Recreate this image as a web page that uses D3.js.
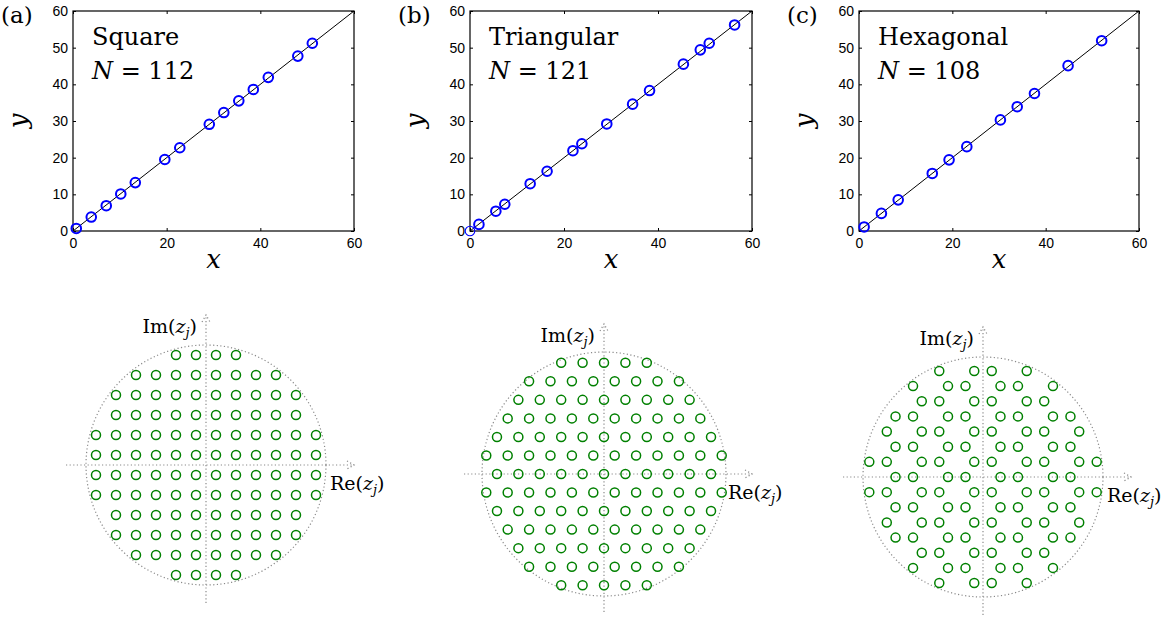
<!DOCTYPE html>
<html>
<head>
  <title>Lattice eigenvalues</title>
  <style>
    body { margin: 0; background: #fff; }
    .tick text { font-family: "Liberation Sans", Arial, sans-serif; font-size: 14px; }
    .serif { font-family: "DejaVu Serif", "Liberation Serif", serif; }
  </style>
</head>
<body>
  <svg id="chart"></svg>

  <script src="https://d3js.org/d3.v7.min.js"></script>
  <script>
    // values
    const panelLetters = ['(a)', '(b)', '(c)'];
    const latticeNames = ['Square', 'Triangular', 'Hexagonal'];
    const latticeN = [112, 121, 108];

    const squareX = [0.7, 3.9, 7.1, 10.2, 13.3, 19.6, 22.8, 29.1, 32.2, 35.4, 38.5, 41.7, 48.0, 51.1];
    const squareY = [0.7, 3.8, 6.9, 10.1, 13.2, 19.5, 22.7, 29.1, 32.3, 35.5, 38.6, 41.9, 47.7, 51.2];
    const triX = [0.0, 1.9, 5.5, 7.4, 12.8, 16.4, 21.9, 23.8, 29.1, 34.6, 38.2, 45.4, 49.0, 50.9, 56.3];
    const triY = [0.0, 1.8, 5.4, 7.3, 12.9, 16.3, 21.9, 23.8, 29.2, 34.6, 38.3, 45.5, 49.4, 51.2, 56.2];
    const hexX = [1.1, 4.8, 8.4, 15.7, 19.3, 23.1, 30.3, 33.9, 37.6, 44.8, 52.0];
    const hexY = [1.1, 4.8, 8.5, 15.7, 19.4, 23.0, 30.3, 33.9, 37.5, 45.1, 51.9];

    const yTicks = [0, 10, 20, 30, 40, 50, 60];
    const xTicks = [0, 20, 40, 60];

    // lattice sites, top row first
    const squareRowCounts = [4, 8, 10, 10, 12, 12, 12, 12, 10, 10, 8, 4];
    const triRowCounts = [5, 8, 9, 10, 11, 12, 11, 12, 11, 10, 9, 8, 5];
    const hexRowXs = [
      [-2.5, -0.5, 0.5, 2.5],
      [-4, -2, -1, 1, 2, 4],
      [-3.5, -2.5, -0.5, 0.5, 2.5, 3.5],
      [-5, -4, -2, -1, 1, 2, 4, 5],
      [-5.5, -3.5, -2.5, -0.5, 0.5, 2.5, 3.5, 5.5],
      [-5, -4, -2, -1, 1, 2, 4, 5],
      [-6.5, -5.5, -3.5, -2.5, -0.5, 0.5, 2.5, 3.5, 5.5, 6.5],
      [-5, -4, -2, -1, 1, 2, 4, 5],
      [-6.5, -5.5, -3.5, -2.5, -0.5, 0.5, 2.5, 3.5, 5.5, 6.5],
      [-5, -4, -2, -1, 1, 2, 4, 5],
      [-5.5, -3.5, -2.5, -0.5, 0.5, 2.5, 3.5, 5.5],
      [-5, -4, -2, -1, 1, 2, 4, 5],
      [-3.5, -2.5, -0.5, 0.5, 2.5, 3.5],
      [-4, -2, -1, 1, 2, 4],
      [-2.5, -0.5, 0.5, 2.5]
    ];

    const h3 = Math.sqrt(3) / 2;
    const squareSites = squareRowCounts.flatMap((n, i) =>
      d3.range(n).map(j => [j - (n - 1) / 2, 5.5 - i]));
    const triSites = triRowCounts.flatMap((n, i) =>
      d3.range(n).map(j => [j - (n - 1) / 2, (6 - i) * h3]));
    const hexSites = hexRowXs.flatMap((xs, i) => xs.map(x => [x, (7 - i) * h3]));

    const W = 1170, H = 621;
    const svg = d3.select('#chart').attr('width', W).attr('height', H);

    // top row: scatter panels
    const plotTop = 11, plotBottom = 231;
    const panels = [
      { left: 73, right: 354, xs: squareX, ys: squareY },
      { left: 470, right: 752, xs: triX, ys: triY },
      { left: 859, right: 1139, xs: hexX, ys: hexY }
    ];

    panels.forEach((p, i) => {
      const x = d3.scaleLinear().domain([0, 60]).range([p.left, p.right]);
      const y = d3.scaleLinear().domain([0, 60]).range([plotBottom, plotTop]);
      const g = svg.append('g');

      g.append('g').attr('transform', `translate(${p.left},0)`)
        .call(d3.axisLeft(y).tickValues(yTicks).tickSize(-3).tickPadding(5));
      g.append('g').attr('transform', `translate(0,${plotBottom})`)
        .call(d3.axisBottom(x).tickValues(xTicks).tickSize(-3).tickPadding(7));
      g.append('g').attr('transform', `translate(${p.right},0)`)
        .call(d3.axisRight(y).tickValues(yTicks).tickSize(-3).tickFormat(''));
      g.append('g').attr('transform', `translate(0,${plotTop})`)
        .call(d3.axisTop(x).tickValues(xTicks).tickSize(-3).tickFormat(''));
      g.selectAll('.domain').remove();
      g.selectAll('.tick line').attr('stroke', '#000');
      g.selectAll('.tick text').attr('fill', '#000');

      g.append('rect')
        .attr('x', p.left).attr('y', plotTop)
        .attr('width', p.right - p.left).attr('height', plotBottom - plotTop)
        .attr('fill', 'none').attr('stroke', '#000').attr('stroke-width', 1.2);

      g.append('line')
        .attr('x1', x(0)).attr('y1', y(0)).attr('x2', x(60)).attr('y2', y(60))
        .attr('stroke', '#000').attr('stroke-width', 1);

      g.selectAll('circle.pt')
        .data(p.xs.map((v, k) => [v, p.ys[k]]))
        .join('circle')
        .attr('class', 'pt')
        .attr('cx', d => x(d[0])).attr('cy', d => y(d[1]))
        .attr('r', 4.8)
        .attr('fill', 'none').attr('stroke', '#0000ff')
        .attr('stroke-width', d => (d[0] === 0 && d[1] === 0) ? 1.1 : 2);

      g.append('text').attr('class', 'serif')
        .attr('x', p.left - 72).attr('y', 23)
        .attr('font-size', 23).text(panelLetters[i]);

      g.append('text').attr('class', 'serif')
        .attr('x', p.left + 19).attr('y', 45)
        .attr('font-size', 24).text(latticeNames[i]);

      const nt = g.append('text').attr('class', 'serif')
        .attr('x', p.left + 19).attr('y', 79).attr('font-size', 24);
      nt.append('tspan').attr('font-style', 'italic').text('N');
      nt.append('tspan').text(' = ' + latticeN[i]);

      g.append('text').attr('class', 'serif')
        .attr('x', (p.left + p.right) / 2).attr('y', 268)
        .attr('text-anchor', 'middle').attr('font-style', 'italic')
        .attr('font-size', 26).text('x');

      g.append('text').attr('class', 'serif')
        .attr('transform', `translate(${p.left - 46},${(plotTop + plotBottom) / 2}) rotate(-90)`)
        .attr('text-anchor', 'middle').attr('font-style', 'italic')
        .attr('font-size', 26).text('y');
    });

    // bottom row: lattice sites in the complex plane
    const lattices = [
      { cx: 206, cy: 465, rpx: 120, r: 6, sites: squareSites },
      { cx: 604, cy: 474, rpx: 122, r: 5.7, sites: triSites },
      { cx: 983, cy: 477, rpx: 120, r: 6.86, sites: hexSites }
    ];

    const dotted = sel => sel.attr('fill', 'none').attr('stroke', '#8a8a8a')
      .attr('stroke-width', 1.2).attr('stroke-dasharray', '1.2,2.4');

    lattices.forEach(L => {
      const x = d3.scaleLinear().domain([-L.r, L.r]).range([L.cx - L.rpx, L.cx + L.rpx]);
      const y = d3.scaleLinear().domain([-L.r, L.r]).range([L.cy + L.rpx, L.cy - L.rpx]);
      const g = svg.append('g');

      g.append('circle').attr('cx', x(0)).attr('cy', y(0)).attr('r', L.rpx).call(dotted);

      const xl = L.cx - 140, xr = L.cx + 148;
      const yb = L.cy + 138, yt = L.cy - 150;
      g.append('line').attr('x1', xl).attr('y1', y(0)).attr('x2', xr).attr('y2', y(0)).call(dotted);
      g.append('line').attr('x1', x(0)).attr('y1', yb).attr('x2', x(0)).attr('y2', yt).call(dotted);
      g.append('path').attr('d', `M${xr - 7},${y(0) - 4}L${xr},${y(0)}L${xr - 7},${y(0) + 4}`).call(dotted);
      g.append('path').attr('d', `M${x(0) - 4},${yt + 7}L${x(0)},${yt}L${x(0) + 4},${yt + 7}`).call(dotted);

      g.selectAll('circle.site')
        .data(L.sites)
        .join('circle')
        .attr('class', 'site')
        .attr('cx', d => x(d[0])).attr('cy', d => y(d[1]))
        .attr('r', 4.5)
        .attr('fill', 'none').attr('stroke', '#008000').attr('stroke-width', 1.5);

      const im = g.append('text').attr('class', 'serif')
        .attr('x', L.cx - 9).attr('y', L.cy - 132)
        .attr('text-anchor', 'end').attr('font-size', 19);
      im.append('tspan').text('Im(');
      im.append('tspan').attr('font-style', 'italic').text('z');
      im.append('tspan').attr('font-style', 'italic').attr('font-size', 13).attr('dy', 4).text('j');
      im.append('tspan').attr('dy', -4).text(')');

      const re = g.append('text').attr('class', 'serif')
        .attr('x', L.cx + 124).attr('y', L.cy + 25).attr('font-size', 19);
      re.append('tspan').text('Re(');
      re.append('tspan').attr('font-style', 'italic').text('z');
      re.append('tspan').attr('font-style', 'italic').attr('font-size', 13).attr('dy', 4).text('j');
      re.append('tspan').attr('dy', -4).text(')');
    });
  </script>
</body>
</html>
